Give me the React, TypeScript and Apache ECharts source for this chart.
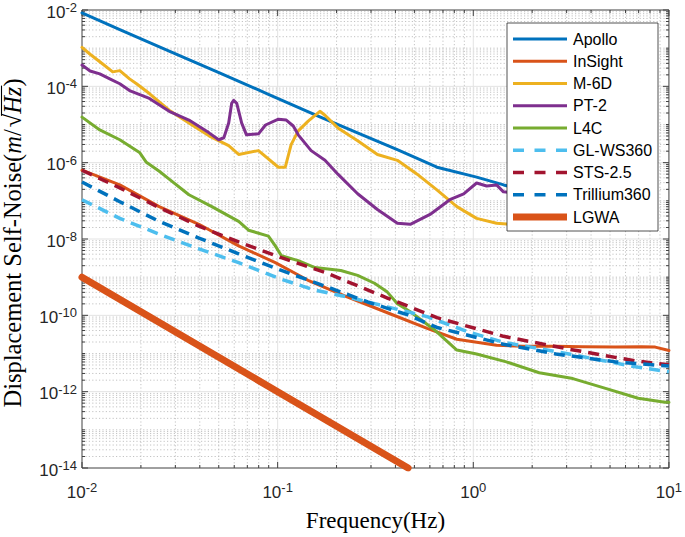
import React, { useEffect, useRef } from "react";
import * as echarts from "echarts";

// Axis tick values (log axes)
const freqTicks = [0.01, 0.1, 1, 10];
const noiseTicks = [1e-14, 1e-12, 1e-10, 1e-8, 1e-6, 1e-4, 1e-2];

// Self-noise curves, displacement in m/sqrt(Hz) against frequency in Hz
const apolloFreq = [0.01, 0.0156, 0.0279, 0.0501, 0.0897, 0.161, 0.256, 0.409, 0.652, 1.04, 1.43, 2.0, 2.82];
const apolloNoise = [8.37e-3, 3.05e-3, 8.33e-4, 2.28e-4, 6.2e-5, 1.66e-5, 6.04e-6, 2.2e-6, 7.59e-7, 4.19e-7, 2.61e-7, 1.66e-7, 1.17e-7];

const insightFreq = [0.01, 0.0156, 0.0248, 0.0396, 0.0632, 0.0973, 0.143, 0.228, 0.364, 0.581, 0.824, 1.315, 1.8, 2.65, 3.6, 5.33, 7.2, 8.51, 10];
const insightNoise = [6.34e-7, 2.61e-7, 7.06e-8, 2.43e-8, 6.59e-9, 2.41e-9, 8.28e-10, 3.02e-10, 1.17e-10, 4.53e-11, 2.36e-11, 1.65e-11, 1.55e-11, 1.56e-11, 1.5e-11, 1.47e-11, 1.5e-11, 1.47e-11, 1.2e-11];

const m6dFreq = [0.01, 0.011, 0.01276, 0.01435, 0.0156, 0.0175, 0.019, 0.0221, 0.0279, 0.0352, 0.0446, 0.0562, 0.0632, 0.0798, 0.1009, 0.1094, 0.1172, 0.1274, 0.1432, 0.1644, 0.1746, 0.2032, 0.2564, 0.3236, 0.4093, 0.5164, 0.6516, 0.8241, 1.04, 1.315, 2.805, 4.217, 6.501, 7.24];
const m6dNoise = [1.05e-3, 6.93e-4, 3.84e-4, 2.39e-4, 2.58e-4, 1.57e-4, 1.17e-4, 6.47e-5, 2.36e-5, 1.09e-5, 5.06e-6, 2.79e-6, 1.64e-6, 2.07e-6, 7.59e-7, 7.59e-7, 2.96e-6, 6.79e-6, 1.23e-5, 2.22e-5, 1.75e-5, 8.13e-6, 3.76e-6, 1.64e-6, 1.15e-6, 5.0e-7, 1.94e-7, 7.06e-8, 3.47e-8, 2.58e-8, 1.92e-8, 1.92e-8, 1.81e-8, 2.0e-8];

const pt2Freq = [0.01, 0.011, 0.01233, 0.01387, 0.0156, 0.0175, 0.0221, 0.0279, 0.0352, 0.0446, 0.05, 0.0531, 0.0562, 0.0582, 0.0596, 0.0618, 0.0655, 0.0693, 0.0798, 0.0867, 0.1009, 0.1107, 0.1202, 0.1274, 0.1483, 0.1746, 0.2032, 0.2564, 0.3236, 0.4093, 0.4764, 0.6012, 0.7586, 0.8933, 1.04, 1.17, 1.315, 1.426, 2.0];
const pt2Noise = [3.61e-4, 2.53e-4, 2.12e-4, 1.57e-4, 1.17e-4, 7.73e-5, 4.81e-5, 2.22e-5, 1.31e-5, 6.04e-6, 3.99e-6, 4.49e-6, 1.09e-5, 3.57e-5, 4.28e-5, 3.57e-5, 1.09e-5, 5.36e-6, 5.69e-6, 9.7e-6, 1.38e-5, 1.31e-5, 9.14e-6, 5.36e-6, 2.07e-6, 1.15e-6, 5.0e-7, 1.53e-7, 5.92e-8, 2.58e-8, 2.43e-8, 4.4e-8, 1.07e-7, 1.53e-7, 2.93e-7, 2.45e-7, 2.61e-7, 1.72e-7, 1.41e-7];

const l4cFreq = [0.01, 0.01233, 0.0156, 0.01968, 0.02133, 0.02483, 0.0279, 0.0352, 0.0461, 0.0632, 0.071, 0.0897, 0.0973, 0.1045, 0.1274, 0.1552, 0.2104, 0.2564, 0.3126, 0.3639, 0.4093, 0.4764, 0.6295, 0.8241, 1.04, 1.476, 2.173, 3.228, 4.742, 6.966, 9.55, 10];
const l4cNoise = [1.56e-5, 7.21e-6, 3.99e-6, 1.85e-6, 1.02e-6, 5.97e-7, 3.72e-7, 1.44e-7, 7.06e-8, 2.9e-8, 1.7e-8, 1.19e-8, 6.59e-9, 3.65e-9, 2.71e-9, 1.79e-9, 1.5e-9, 1.11e-9, 6.93e-10, 4.06e-10, 2.0e-10, 1.24e-10, 4.27e-11, 1.23e-11, 9.68e-12, 6.03e-12, 3.14e-12, 2.2e-12, 1.22e-12, 6.71e-13, 5.3e-13, 5.25e-13];

const glws360Freq = [0.01, 0.0156, 0.0248, 0.0396, 0.0632, 0.1045, 0.1552, 0.228, 0.364, 0.581, 0.959, 1.426, 3.083, 6.73, 10];
const glws360Noise = [1.07e-7, 3.47e-8, 1.34e-8, 5.52e-9, 2.4e-9, 8.79e-10, 4.57e-10, 3.02e-10, 1.67e-10, 9.23e-11, 3.57e-11, 1.97e-11, 9.7e-12, 4.49e-12, 3.33e-12];

const sts25Freq = [0.01, 0.0156, 0.0248, 0.0396, 0.0632, 0.1045, 0.1746, 0.364, 0.652, 1.426, 3.083, 6.73, 10];
const sts25Noise = [6.34e-7, 2.18e-7, 6.67e-8, 2.16e-8, 8.36e-9, 3.24e-9, 1.33e-9, 2.84e-10, 8.69e-11, 2.82e-11, 1.3e-11, 6.4e-12, 5.05e-12];

const trillium360Freq = [0.01, 0.0156, 0.0248, 0.0396, 0.0632, 0.1045, 0.1807, 0.2884, 0.4592, 0.652, 1.426, 2.65, 5.33, 10];
const trillium360Noise = [3.11e-7, 9.5e-8, 2.9e-8, 1.06e-8, 4.1e-9, 1.5e-9, 5.47e-10, 2.24e-10, 1.04e-10, 4.81e-11, 1.75e-11, 9.7e-12, 6.03e-12, 4.68e-12];

const lgwaFreq = [0.01, 0.1, 0.4642];
const lgwaNoise = [1e-9, 1e-12, 1e-14];

type Curve = {
  name: string;
  freq: number[];
  noise: number[];
  color: string;
  width: number;
  dash?: number[];
};

const curves: Curve[] = [
  { name: "Apollo", freq: apolloFreq, noise: apolloNoise, color: "#0072BD", width: 3 },
  { name: "InSight", freq: insightFreq, noise: insightNoise, color: "#D95319", width: 3 },
  { name: "M-6D", freq: m6dFreq, noise: m6dNoise, color: "#EDB120", width: 3 },
  { name: "PT-2", freq: pt2Freq, noise: pt2Noise, color: "#7E2F8E", width: 3 },
  { name: "L4C", freq: l4cFreq, noise: l4cNoise, color: "#77AC30", width: 3 },
  { name: "GL-WS360", freq: glws360Freq, noise: glws360Noise, color: "#4DBEEE", width: 3.5, dash: [11, 7] },
  { name: "STS-2.5", freq: sts25Freq, noise: sts25Noise, color: "#A2142F", width: 3.5, dash: [11, 7] },
  { name: "Trillium360", freq: trillium360Freq, noise: trillium360Noise, color: "#0072BD", width: 3.5, dash: [11, 7] },
  { name: "LGWA", freq: lgwaFreq, noise: lgwaNoise, color: "#D95319", width: 7 },
];

const GRID = { left: 82, top: 10, right: 11, bottom: 61 };
const AXIS_COLOR = "#404040";
const SANS = '"Liberation Sans", Arial, Helvetica, sans-serif';
const SERIF = '"Liberation Serif", "Times New Roman", serif';
const TOP_Z = 100;

// 2..9 x 10^n inside each decade, plus the unlabelled decades
function minorValues(ticks: number[]): number[] {
  const out: number[] = [];
  const lo = Math.round(Math.log10(ticks[0]));
  const hi = Math.round(Math.log10(ticks[ticks.length - 1]));
  const major = new Set(ticks.map((t) => Math.round(Math.log10(t))));
  for (let n = lo; n < hi; n++) {
    for (let k = 1; k <= 9; k++) {
      if (k === 1 && major.has(n)) continue;
      out.push(k * Math.pow(10, n));
    }
  }
  return out;
}

function supLabel(v: number): string {
  const e = Math.round(Math.log10(v));
  return `{b|10}{s|${e}}`;
}

function buildYName() {
  const ctx = document.createElement("canvas").getContext("2d")!;
  const size = 24.5;
  const pieces: { t: string; italic: boolean }[] = [
    { t: "Displacement Self-Noise(", italic: false },
    { t: "m", italic: true },
    { t: "/", italic: false },
    { t: "\u221A", italic: false },
    { t: "Hz", italic: true },
    { t: ")", italic: false },
  ];
  let x = 0;
  const children: any[] = [];
  let barStart = 0;
  let barEnd = 0;
  pieces.forEach((p, i) => {
    const font = `${p.italic ? "italic " : ""}${size}px ${SERIF}`;
    ctx.font = font;
    const w = ctx.measureText(p.t).width;
    children.push({
      type: "text",
      z: TOP_Z,
      style: {
        text: p.t,
        x,
        y: 0,
        font,
        fill: "#000",
        align: "left",
        verticalAlign: "middle",
        textAlign: "left",
        textVerticalAlign: "middle",
      },
    });
    if (i === 3) barStart = x + w * 0.85;
    if (i === 4) barEnd = x + w + 1;
    x += w + (i === 2 ? 2 : 0);
  });
  children.push({
    type: "line",
    z: TOP_Z,
    shape: { x1: barStart, y1: -11, x2: barEnd, y2: -11 },
    style: { stroke: "#000", lineWidth: 1.1 },
  });
  const total = x;
  const centerY = GRID.top + (537 - GRID.top - GRID.bottom) / 2;
  return {
    type: "group",
    z: TOP_Z,
    x: 12.5,
    y: centerY + total / 2,
    rotation: Math.PI / 2,
    children,
    silent: true,
  };
}

function buildLegend() {
  const left = 507;
  const top = 23;
  const width = 151;
  const height = 208;
  const step = 22.25;
  const children: any[] = [
    {
      type: "rect",
      z: TOP_Z,
      shape: { x: left, y: top, width, height },
      style: { fill: "#fff", stroke: "#262626", lineWidth: 0.8 },
    },
  ];
  curves.forEach((c, i) => {
    const y = 39 + i * step;
    children.push({
      type: "line",
      z: TOP_Z + 1,
      shape: { x1: 513, y1: y, x2: 567, y2: y },
      style: {
        stroke: c.color,
        lineWidth: c.width,
        lineDash: c.dash ? [11, 10.5] : null,
      },
    });
    children.push({
      type: "text",
      z: TOP_Z + 1,
      style: {
        text: c.name,
        x: 573,
        y,
        font: `16px ${SANS}`,
        fill: "#000",
        align: "left",
        verticalAlign: "middle",
        textAlign: "left",
        textVerticalAlign: "middle",
      },
    });
  });
  return { type: "group", z: TOP_Z, children, silent: true };
}

export default function App() {
  const ref = useRef<HTMLDivElement>(null);

  useEffect(() => {
    if (!ref.current) return;
    const chart = echarts.init(ref.current, null, { renderer: "svg" });

    const xMinor = minorValues(freqTicks);
    const yMinor = minorValues(noiseTicks);
    const xMin = freqTicks[0];
    const xMax = freqTicks[freqTicks.length - 1];
    const yMin = noiseTicks[0];
    const yMax = noiseTicks[noiseTicks.length - 1];

    // Grid, box and tick marks drawn through the axes' own scales
    const frameSeries = {
      type: "custom",
      silent: true,
      z: 1,
      clip: false,
      data: [[1, 1e-8]],
      renderItem: (_p: any, api: any) => {
        const [xl, yb] = api.coord([xMin, yMin]);
        const [xr, yt] = api.coord([xMax, yMax]);
        const els: any[] = [];
        const minorStyle = { stroke: "#bcbcbc", lineWidth: 0.9, lineDash: [1.2, 2.2] };
        const majorStyle = { stroke: "#e3e3e3", lineWidth: 1 };
        const axisStyle = { stroke: AXIS_COLOR, lineWidth: 1 };
        xMinor.forEach((f) => {
          const x = api.coord([f, yMin])[0];
          els.push({ type: "line", shape: { x1: x, y1: yt, x2: x, y2: yb }, style: minorStyle });
        });
        yMinor.forEach((v) => {
          const y = api.coord([xMin, v])[1];
          els.push({ type: "line", shape: { x1: xl, y1: y, x2: xr, y2: y }, style: minorStyle });
        });
        freqTicks.slice(1, -1).forEach((f) => {
          const x = api.coord([f, yMin])[0];
          els.push({ type: "line", shape: { x1: x, y1: yt, x2: x, y2: yb }, style: majorStyle });
        });
        noiseTicks.slice(1, -1).forEach((v) => {
          const y = api.coord([xMin, v])[1];
          els.push({ type: "line", shape: { x1: xl, y1: y, x2: xr, y2: y }, style: majorStyle });
        });
        // tick marks pointing inwards on all four sides
        const xTickSet = [...freqTicks.map((f) => [f, 6]), ...xMinor.map((f) => [f, 3])];
        xTickSet.forEach(([f, len]) => {
          const x = api.coord([f, yMin])[0];
          els.push({ type: "line", shape: { x1: x, y1: yb, x2: x, y2: yb - len }, style: axisStyle });
          els.push({ type: "line", shape: { x1: x, y1: yt, x2: x, y2: yt + len }, style: axisStyle });
        });
        const yTickSet = [...noiseTicks.map((v) => [v, 6]), ...yMinor.map((v) => [v, 3])];
        yTickSet.forEach(([v, len]) => {
          const y = api.coord([xMin, v])[1];
          els.push({ type: "line", shape: { x1: xl, y1: y, x2: xl + len, y2: y }, style: axisStyle });
          els.push({ type: "line", shape: { x1: xr, y1: y, x2: xr - len, y2: y }, style: axisStyle });
        });
        els.push({
          type: "rect",
          shape: { x: xl, y: yt, width: xr - xl, height: yb - yt },
          style: { fill: "none", stroke: AXIS_COLOR, lineWidth: 1 },
        });
        return { type: "group", children: els };
      },
    };

    const lineSeries = curves.map((c, i) => ({
      type: "line",
      name: c.name,
      data: c.freq.map((f, j) => [f, c.noise[j]]),
      showSymbol: false,
      symbol: "none",
      z: 3 + i,
      clip: true,
      lineStyle: {
        color: c.color,
        width: c.width,
        type: c.dash ? c.dash : "solid",
        cap: c.dash ? "butt" : "round",
        join: "round",
      },
    }));

    const labelRich = {
      b: { fontSize: 17, fontFamily: SANS, color: "#262626", lineHeight: 22 },
      s: { fontSize: 13, fontFamily: SANS, color: "#262626", lineHeight: 13, verticalAlign: "top" },
    };

    chart.setOption({
      animation: false,
      backgroundColor: "#fff",
      grid: { ...GRID, containLabel: false },
      xAxis: {
        type: "log",
        logBase: 10,
        min: xMin,
        max: xMax,
        interval: 1,
        axisLine: { show: false },
        axisTick: { show: false },
        splitLine: { show: false },
        axisLabel: {
          margin: 13,
          showMinLabel: true,
          showMaxLabel: true,
          formatter: (v: number) => supLabel(v),
          rich: labelRich,
        },
        name: "Frequency(Hz)",
        nameLocation: "middle",
        nameGap: 41,
        nameTextStyle: { fontFamily: SERIF, fontSize: 23, color: "#000" },
      },
      yAxis: {
        type: "log",
        logBase: 10,
        min: yMin,
        max: yMax,
        interval: 2,
        axisLine: { show: false },
        axisTick: { show: false },
        splitLine: { show: false },
        axisLabel: {
          margin: 5,
          showMinLabel: true,
          showMaxLabel: true,
          padding: [4, 0, 0, 0],
          formatter: (v: number) => supLabel(v),
          rich: labelRich,
        },
      },
      series: [frameSeries, ...lineSeries],
      graphic: [buildYName(), buildLegend()],
    });

    return () => chart.dispose();
  }, []);

  return (
    <div
      ref={ref}
      style={{ position: "fixed", left: 0, top: 0, width: 685, height: 537, background: "#fff" }}
    />
  );
}
